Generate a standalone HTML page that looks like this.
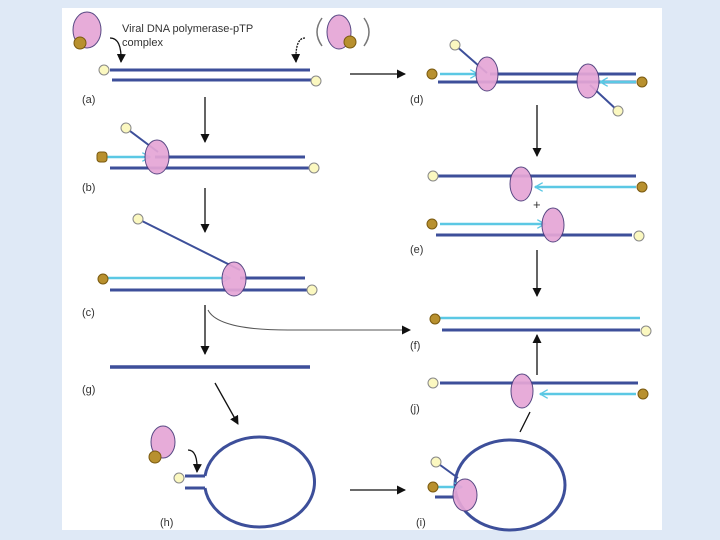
<!DOCTYPE html><html><head><style>body{margin:0;background:#dfe9f6}svg{display:block}</style></head><body>
<svg width="720" height="540" xmlns="http://www.w3.org/2000/svg" font-family="Liberation Sans, sans-serif">
<defs><marker id="ah" markerUnits="userSpaceOnUse" markerWidth="9" markerHeight="9" refX="8" refY="4.5" orient="auto"><path d="M0,0 L9,4.5 L0,9 z" fill="#111"/></marker>
<marker id="ch" markerUnits="userSpaceOnUse" markerWidth="9" markerHeight="9" refX="8" refY="4.5" orient="auto"><path d="M0,0 L8,4.5 L0,9" fill="none" stroke="#5bc8e4" stroke-width="1.3"/></marker></defs>
<rect width="720" height="540" fill="#dfe9f6"/>
<rect x="62" y="8" width="600" height="522" fill="#fff"/>
<g stroke="#3d4f9a" stroke-width="3" fill="none">
<line x1="110" y1="70" x2="310" y2="70"/><line x1="112" y1="80" x2="315" y2="80"/>
<line x1="155" y1="157" x2="305" y2="157"/><line x1="110" y1="168" x2="312" y2="168"/>
<line x1="240" y1="278" x2="305" y2="278"/><line x1="110" y1="290" x2="310" y2="290"/>
<line x1="110" y1="367" x2="310" y2="367" stroke-width="3.5"/>
<path d="M205,476 A55,45 0 1 1 205,488"/><line x1="185" y1="476" x2="205" y2="476"/><line x1="185" y1="488" x2="205" y2="488"/>
<ellipse cx="510" cy="485" rx="55" ry="45"/><line x1="435" y1="497" x2="458" y2="497"/>
<line x1="440" y1="383" x2="638" y2="383"/>
<line x1="442" y1="330" x2="640" y2="330"/>
<line x1="438" y1="176" x2="636" y2="176"/><line x1="436" y1="235" x2="632" y2="235"/>
<line x1="490" y1="74" x2="636" y2="74"/><line x1="438" y1="82" x2="636" y2="82"/>
</g>
<g stroke="#3d4f9a" stroke-width="2" fill="none">
<line x1="126" y1="128" x2="158" y2="152"/><line x1="138" y1="219" x2="240" y2="270"/>
<line x1="436" y1="462" x2="458" y2="478"/><line x1="455" y1="45" x2="487" y2="73"/><line x1="618" y1="111" x2="590" y2="85"/>
</g>
<g stroke="#5bc8e4" stroke-width="2.5" fill="none" marker-end="url(#ch)">
<line x1="106" y1="157" x2="150" y2="157"/><line x1="108" y1="278" x2="230" y2="278"/>
<line x1="438" y1="487" x2="462" y2="487"/><line x1="636" y1="394" x2="540" y2="394"/>
<line x1="440" y1="318" x2="640" y2="318" marker-end="none"/>
<line x1="636" y1="187" x2="535" y2="187"/><line x1="440" y1="224" x2="545" y2="224"/>
<line x1="440" y1="74" x2="478" y2="74"/><line x1="636" y1="82" x2="600" y2="82"/>
</g>
<g fill="#e6a6d6" stroke="#4a3a7a" stroke-width="1" opacity="0.92">
<ellipse cx="87" cy="30" rx="14" ry="18"/><ellipse cx="339" cy="32" rx="12" ry="17"/>
<ellipse cx="157" cy="157" rx="12" ry="17"/><ellipse cx="234" cy="279" rx="12" ry="17"/>
<ellipse cx="163" cy="442" rx="12" ry="16"/><ellipse cx="465" cy="495" rx="12" ry="16"/>
<ellipse cx="522" cy="391" rx="11" ry="17"/><ellipse cx="521" cy="184" rx="11" ry="17"/><ellipse cx="553" cy="225" rx="11" ry="17"/>
<ellipse cx="487" cy="74" rx="11" ry="17"/><ellipse cx="588" cy="81" rx="11" ry="17"/>
</g>
<g fill="#b8902e" stroke="#7a5a10" stroke-width="1">
<circle cx="80" cy="43" r="6"/><circle cx="350" cy="42" r="6"/><rect x="97" y="152" width="10" height="10" rx="3"/>
<circle cx="103" cy="279" r="5"/><circle cx="155" cy="457" r="6"/><circle cx="433" cy="487" r="5"/>
<circle cx="643" cy="394" r="5"/><circle cx="435" cy="319" r="5"/><circle cx="642" cy="187" r="5"/><circle cx="432" cy="224" r="5"/>
<circle cx="432" cy="74" r="5"/><circle cx="642" cy="82" r="5"/>
</g>
<g fill="#fbf8c0" stroke="#888" stroke-width="1">
<circle cx="104" cy="70" r="5"/><circle cx="316" cy="81" r="5"/><circle cx="126" cy="128" r="5"/><circle cx="314" cy="168" r="5"/>
<circle cx="138" cy="219" r="5"/><circle cx="312" cy="290" r="5"/><circle cx="179" cy="478" r="5"/><circle cx="436" cy="462" r="5"/>
<circle cx="433" cy="383" r="5"/><circle cx="646" cy="331" r="5"/><circle cx="433" cy="176" r="5"/><circle cx="639" cy="236" r="5"/>
<circle cx="455" cy="45" r="5"/><circle cx="618" cy="111" r="5"/>
</g>
<g stroke="#111" stroke-width="1.3" fill="none" marker-end="url(#ah)">
<line x1="350" y1="74" x2="405" y2="74"/><line x1="205" y1="97" x2="205" y2="142"/><line x1="205" y1="188" x2="205" y2="232"/>
<line x1="205" y1="305" x2="205" y2="354"/><line x1="215" y1="383" x2="238" y2="424"/><line x1="350" y1="490" x2="405" y2="490"/>
<line x1="537" y1="375" x2="537" y2="335"/><line x1="537" y1="250" x2="537" y2="296"/><line x1="537" y1="105" x2="537" y2="156"/>
<path d="M110,38 q12,0 11,24"/><path d="M305,38 q-10,0 -9,24" stroke-dasharray="2,1"/><path d="M188,450 q10,0 9,22"/>
<path d="M208,310 q10,20 80,20 L410,330" stroke="#555" stroke-width="1"/>
</g>
<path d="M520,432 L530,412" stroke="#111" stroke-width="1.3"/>
<path d="M322,18 q-10,14 0,28 M364,18 q10,14 0,28" stroke="#777" fill="none" stroke-width="1.5"/>
<g font-size="11" fill="#333">
<text x="122" y="32">Viral DNA polymerase-pTP</text><text x="122" y="46">complex</text>
<text x="82" y="103">(a)</text><text x="82" y="191">(b)</text><text x="82" y="316">(c)</text><text x="82" y="393">(g)</text>
<text x="160" y="526">(h)</text><text x="416" y="526">(i)</text><text x="410" y="412">(j)</text><text x="410" y="349">(f)</text>
<text x="410" y="253">(e)</text><text x="410" y="103">(d)</text><text x="533" y="209" font-size="13">+</text>
</g>
</svg></body></html>
